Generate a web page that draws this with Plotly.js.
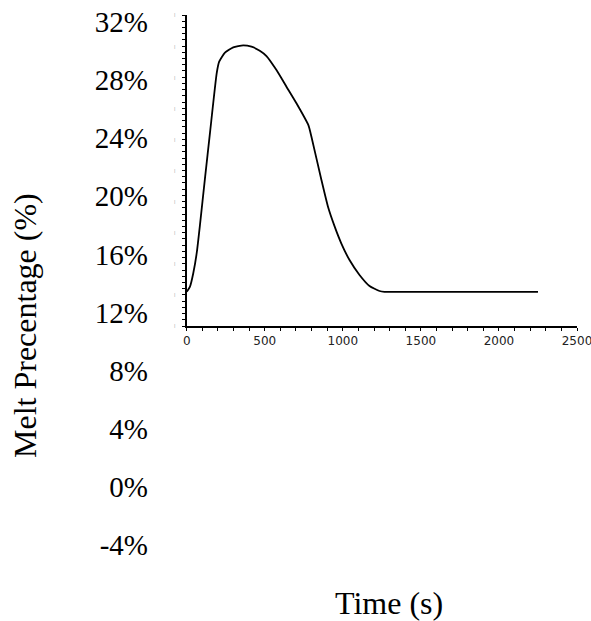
<!DOCTYPE html>
<html>
<head>
<meta charset="utf-8">
<script src="https://cdn.plot.ly/plotly-3.0.1.min.js"></script>
<style>html,body{margin:0;padding:0;background:#fff;}#chart{width:591px;height:621px;}</style>
</head>
<body>
<div id="chart"></div>
<script>
// Data
const timeS = [0, 21, 42, 64, 85, 117, 150, 192, 208, 245, 298, 362, 415, 468, 511, 575, 639, 703, 780, 799, 863, 905, 948, 990, 1043, 1107, 1171, 1235, 1267, 1500, 1750, 2000, 2250];
const meltPct = [14.2, 14.53, 15.39, 16.68, 18.5, 21.5, 24.5, 28.25, 29.0, 29.58, 29.92, 30.05, 29.96, 29.70, 29.36, 28.46, 27.39, 26.32, 24.9, 24.17, 21.39, 19.67, 18.39, 17.32, 16.24, 15.28, 14.57, 14.25, 14.2, 14.2, 14.2, 14.2, 14.2];

const innerYTickVals = [12, 14, 16, 18, 20, 22, 24, 26, 28, 30, 32];
const innerYTickText = ['|', '|', '|', '|', '|', '|', '|', '|', '|', '|', '|'];
const xTickVals = [0, 500, 1000, 1500, 2000, 2500];
const outerTickVals = [32, 28, 24, 20, 16, 12, 8, 4, 0, -4];
const outerTickText = ['32%', '28%', '24%', '20%', '16%', '12%', '8%', '4%', '0%', '-4%'];
const xTitle = 'Time (s)';
const yTitle = 'Melt Precentage (%)';

const W = 591, H = 621;
const px = v => v / W;
const py = v => 1 - v / H;

const traces = [
  {
    x: timeS, y: meltPct, type: 'scatter', mode: 'lines',
    line: {color: '#000', width: 1.8, shape: 'spline', smoothing: 0.5},
    xaxis: 'x', yaxis: 'y', showlegend: false, hoverinfo: 'skip'
  },
  {
    x: [], y: [], type: 'scatter', mode: 'lines',
    xaxis: 'x', yaxis: 'y2', showlegend: false, hoverinfo: 'skip'
  }
];

const layout = {
  width: W, height: H,
  margin: {l: 0, r: 0, t: 0, b: 0, pad: 0},
  paper_bgcolor: '#fff', plot_bgcolor: 'rgba(0,0,0,0)',
  showlegend: false,
  xaxis: {
    domain: [px(186.7), px(577)], range: [0, 2500], anchor: 'y',
    showline: true, linecolor: '#000', linewidth: 1.5,
    ticks: 'outside', ticklen: 3, tickwidth: 1, tickcolor: '#000',
    tickvals: xTickVals, ticklabeloverflow: 'allow',
    minor: {dtick: 100, ticks: 'outside', ticklen: 3, tickwidth: 1, tickcolor: '#000'},
    tickfont: {family: 'DejaVu Sans', size: 12, color: '#222'},
    showgrid: false, zeroline: false, automargin: false
  },
  yaxis: {
    domain: [py(326), py(15)], range: [12, 32], anchor: 'x',
    showline: true, linecolor: '#000', linewidth: 1.5,
    ticks: 'outside', ticklen: 3, tickwidth: 1, tickcolor: '#000',
    tickvals: innerYTickVals, ticktext: innerYTickText,
    ticklabelstandoff: 6,
    minor: {dtick: 0.4, ticks: 'outside', ticklen: 3, tickwidth: 1, tickcolor: '#000'},
    tickfont: {family: 'DejaVu Sans', size: 4, color: '#888'},
    showgrid: false, zeroline: false, automargin: false
  },
  yaxis2: {
    domain: [py(545), py(22)], range: [-4, 32], anchor: 'free', position: px(148),
    side: 'left', showline: false, ticks: '',
    tickvals: outerTickVals, ticktext: outerTickText,
    tickfont: {family: 'Liberation Serif', size: 29, color: '#000'},
    showgrid: false, zeroline: false, automargin: false
  },
  annotations: [
    {
      text: yTitle, xref: 'paper', yref: 'paper', x: px(25), y: py(326),
      xanchor: 'center', yanchor: 'middle', textangle: -90, showarrow: false,
      font: {family: 'Liberation Serif', size: 32, color: '#000'}
    },
    {
      text: xTitle, xref: 'paper', yref: 'paper', x: px(389), y: py(603),
      xanchor: 'center', yanchor: 'middle', showarrow: false,
      font: {family: 'Liberation Serif', size: 32, color: '#000'}
    }
  ]
};

Plotly.newPlot('chart', traces, layout, {staticPlot: true, displayModeBar: false});
</script>
</body>
</html>
